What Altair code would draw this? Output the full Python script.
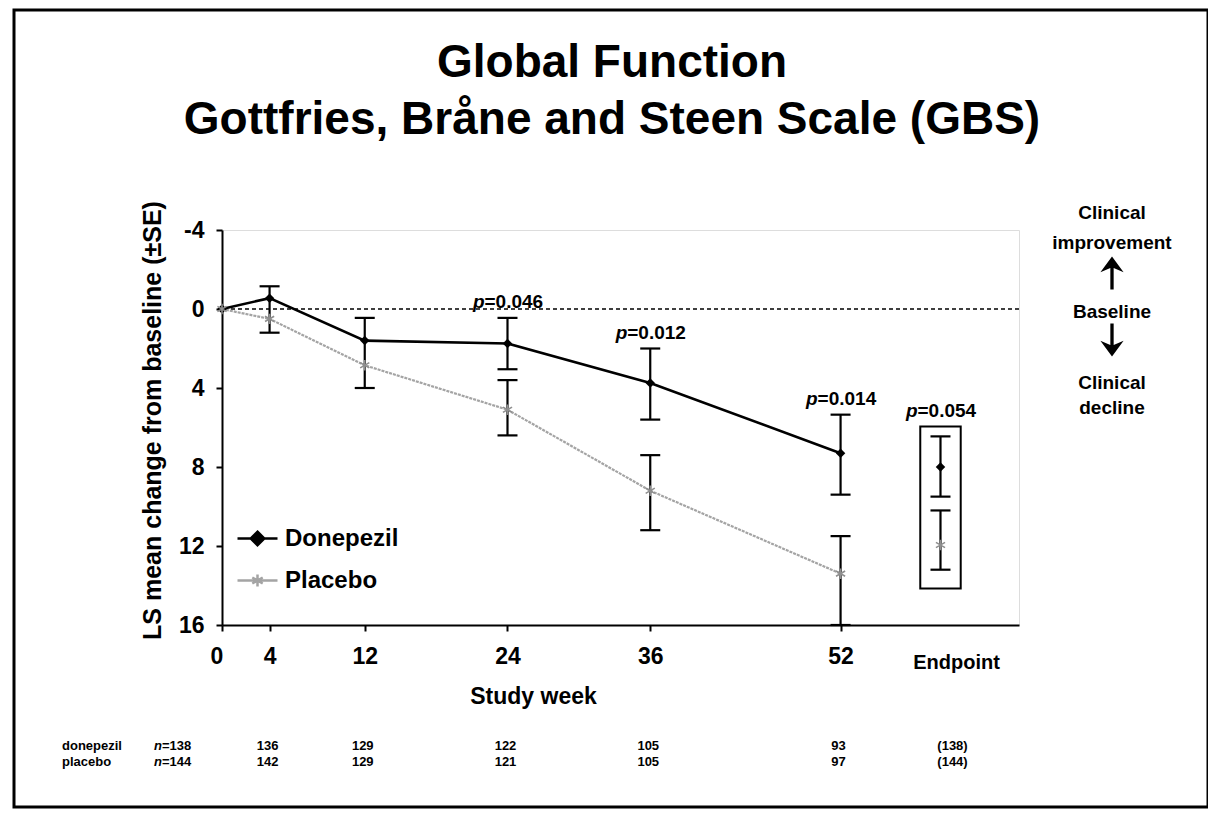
import altair as alt
import pandas as pd

# ---------------- data ----------------
series = ["Donepezil", "Placebo"]
weeks = [0, 4, 12, 24, 36, 52]
endpoint_x = 60.4
don_mean = [0, -0.55, 1.6, 1.75, 3.75, 7.3]
plc_mean = [0, 0.5, 2.85, 5.1, 9.2, 13.4]
don_end = 8.0
plc_end = 11.95

# error bars (weeks 4..52, then endpoint); None = one-sided bar joining the other series
bar_x = [4, 12, 24, 36, 52, endpoint_x]
don_lo = [-1.15, 0.45, 0.45, 2.0, 5.35, 6.45]
don_hi = [None, None, 3.05, 5.6, 9.4, 9.5]
plc_lo = [None, None, 3.6, 7.4, 11.5, 10.2]
plc_hi = [1.2, 4.0, 6.4, 11.2, 16.0, 13.2]

p_labels = ["0.046", "0.012", "0.014", "0.054"]
p_x = [24, 36, 52, endpoint_x]

n_don = ["138", "136", "129", "122", "105", "93", "138"]
n_plc = ["144", "142", "129", "121", "105", "97", "144"]
row_names = ["donepezil", "placebo"]

title_lines = ["Global Function", "Gottfries, Bråne and Steen Scale (GBS)"]
y_title = "LS mean change from baseline (±SE)"
x_title = "Study week"
endpoint_label = "Endpoint"
right_notes = ["Clinical", "improvement", "Baseline", "Clinical", "decline"]

FONT = "Liberation Sans"
GRAY = "#a4a4a4"

# ---------------- tables ----------------
lines_df = pd.DataFrame({
    "week": weeks * 2,
    "value": don_mean + plc_mean,
    "series": ["Donepezil"] * len(weeks) + ["Placebo"] * len(weeks),
})
all_x = weeks + [endpoint_x]
don_pts = pd.DataFrame({"week": all_x, "value": don_mean + [don_end]})
plc_pts = pd.DataFrame({"week": all_x, "value": plc_mean + [plc_end]})

plc_means_bar = plc_mean[1:] + [plc_end]
rule_rows, cap_rows = [], []
for i, x in enumerate(bar_x):
    d_hi = don_hi[i] if don_hi[i] is not None else plc_means_bar[i]
    rule_rows.append({"x": x, "lo": don_lo[i], "hi": d_hi})
    cap_rows.append({"x": x, "y": don_lo[i]})
    if don_hi[i] is not None:
        cap_rows.append({"x": x, "y": don_hi[i]})
    p_lo = plc_lo[i] if plc_lo[i] is not None else plc_means_bar[i]
    rule_rows.append({"x": x, "lo": p_lo, "hi": plc_hi[i]})
    cap_rows.append({"x": x, "y": plc_hi[i]})
    if plc_lo[i] is not None:
        cap_rows.append({"x": x, "y": plc_lo[i]})
rules_df = pd.DataFrame(rule_rows)
caps_df = pd.DataFrame(cap_rows)

box_df = pd.DataFrame({
    "x": [endpoint_x - 1.7], "x2": [endpoint_x + 1.7],
    "y": [don_lo[-1] - 0.5], "y2": [plc_hi[-1] + 0.95],
})
p_top = don_lo[2:5] + [box_df["y"][0]]
p_df = pd.DataFrame({"x": p_x, "y": [v - 0.8 for v in p_top],
                     "t": ["=" + s for s in p_labels], "p": ["p"] * 4})

# ---------------- scales / axes ----------------
xscale = alt.Scale(domain=[0, 67], nice=False, zero=False)
yscale = alt.Scale(domain=[-4, 16], nice=False, zero=False, reverse=True)
xaxis = alt.Axis(
    title=x_title, values=weeks, grid=False, domainColor="black", domainWidth=2,
    tickColor="black", tickWidth=2, tickSize=6, labelFont=FONT, labelFontSize=23,
    labelFontWeight="bold", labelColor="black", labelPadding=14,
    labelOffset={"condition": {"test": "datum.value == 0", "value": -12}, "value": 0},
    titleFont=FONT, titleFontSize=23, titleFontWeight="bold", titleColor="black",
    titleX=311, titleY=60, titleAnchor="middle",
)
yaxis = alt.Axis(
    title=y_title, values=[-4, 0, 4, 8, 12, 16], grid=False, domainColor="black",
    domainWidth=2, tickColor="black", tickWidth=2, tickSize=6, labelFont=FONT,
    labelFontSize=23, labelFontWeight="bold", labelColor="black", labelPadding=12,
    labelExpr="'' + datum.value",
    titleFont=FONT, titleFontSize=25, titleFontWeight="bold", titleColor="black",
    titleAngle=-90, titleX=-70, titleY=190, titleAnchor="middle", titleBaseline="middle",
)


def X(f):
    return alt.X(f, type="quantitative", scale=xscale, axis=xaxis)


def Y(f):
    return alt.Y(f, type="quantitative", scale=yscale, axis=yaxis)


base_rule = alt.Chart(pd.DataFrame({"y": [0]})).mark_rule(
    color="black", strokeWidth=1.5, strokeDash=[4, 3]
).encode(y=Y("y"))

plc_line = alt.Chart(lines_df).transform_filter("datum.series == 'Placebo'").mark_line(
    color=GRAY, strokeWidth=2.2, strokeDash=[3, 1]
).encode(x=X("week"), y=Y("value"))
don_line = alt.Chart(lines_df).transform_filter("datum.series == 'Donepezil'").mark_line(
    color="black", strokeWidth=2.6
).encode(x=X("week"), y=Y("value"))

err_rules = alt.Chart(rules_df).mark_rule(color="black", strokeWidth=2.2).encode(
    x=X("x"), y=Y("lo"), y2="hi"
)
err_caps = alt.Chart(caps_df).mark_tick(
    orient="horizontal", size=20, thickness=2.2, color="black", opacity=1
).encode(x=X("x"), y=Y("y"))

don_points = alt.Chart(don_pts).mark_point(
    shape="diamond", filled=True, size=90, color="black", opacity=1
).encode(x=X("week"), y=Y("value"))

ASTER = "M0,-1L0,1M-0.87,-0.5L0.87,0.5M-0.87,0.5L0.87,-0.5"
plc_points = alt.Chart(plc_pts).mark_point(
    shape=ASTER, filled=False, size=110, stroke="#8f8f8f", strokeWidth=1.6, opacity=1
).encode(x=X("week"), y=Y("value"))

box = alt.Chart(box_df).mark_rect(
    fillOpacity=0, stroke="black", strokeWidth=2
).encode(x=X("x"), x2="x2", y=Y("y"), y2="y2")

p_rest = alt.Chart(p_df).mark_text(
    font=FONT, fontSize=19, fontWeight="bold", align="left", baseline="middle",
    dx=-23, color="black"
).encode(x=X("x"), y=Y("y"), text="t:N")
p_p = alt.Chart(p_df).mark_text(
    font=FONT, fontSize=19, fontWeight="bold", fontStyle="italic", align="right",
    baseline="middle", dx=-23, color="black"
).encode(x=X("x"), y=Y("y"), text="p:N")

end_lab = alt.Chart(pd.DataFrame({"x": [endpoint_x], "t": [endpoint_label]})).mark_text(
    font=FONT, fontSize=20, fontWeight="bold", align="center", baseline="middle",
    dx=16, color="black"
).encode(x=X("x"), y=alt.value(433), text="t:N")

# title (two centred lines)
title_layers = []
for txt, yy in zip(title_lines, [-167, -110]):
    title_layers.append(
        alt.Chart(pd.DataFrame({"t": [txt]})).mark_text(
            font=FONT, fontSize=46, fontWeight="bold", color="black", align="center",
            baseline="middle"
        ).encode(x=alt.value(390), y=alt.value(yy), text="t:N")
    )

# n table
table_layers = []
for r, (name, nvals) in enumerate(zip(row_names, [n_don, n_plc])):
    ypix = 516 + 16 * r
    cols = pd.DataFrame({"x": all_x, "t": nvals})
    first = cols.iloc[[0]].assign(t=lambda d: "=" + d["t"])
    mid = cols.iloc[1:-1]
    last = cols.iloc[[-1]].assign(t=lambda d: "(" + d["t"] + ")")
    common = dict(font=FONT, fontSize=13, fontWeight="bold", color="black", baseline="middle")
    table_layers += [
        alt.Chart(pd.DataFrame({"x": [0], "t": [name]})).mark_text(align="left", dx=-160, **common)
        .encode(x=X("x"), y=alt.value(ypix), text="t:N"),
        alt.Chart(first.assign(n="n")).mark_text(align="right", dx=-60, fontStyle="italic", **common)
        .encode(x=X("x"), y=alt.value(ypix), text="n:N"),
        alt.Chart(first).mark_text(align="left", dx=-60, **common)
        .encode(x=X("x"), y=alt.value(ypix), text="t:N"),
        alt.Chart(mid).mark_text(align="center", dx=-2, **common)
        .encode(x=X("x"), y=alt.value(ypix), text="t:N"),
        alt.Chart(last).mark_text(align="center", dx=12, **common)
        .encode(x=X("x"), y=alt.value(ypix), text="t:N"),
    ]

# right-hand notes
note_y = [-17, 13, 82, 153, 178]
note_layers = []
for txt, yy in zip(right_notes, note_y):
    note_layers.append(
        alt.Chart(pd.DataFrame({"t": [txt]})).mark_text(
            font=FONT, fontSize=19, fontWeight="bold", color="black", align="center",
            baseline="middle"
        ).encode(x=alt.value(890), y=alt.value(yy), text="t:N")
    )
UP = "M0,-1L0.7,-0.05L0.1,-0.3L0.1,1L-0.1,1L-0.1,-0.3L-0.7,-0.05Z"
DOWN = "M0,1L0.7,0.05L0.1,0.3L0.1,-1L-0.1,-1L-0.1,0.3L-0.7,0.05Z"
arrows = [
    alt.Chart(pd.DataFrame({"a": [1]})).mark_point(
        shape=UP, filled=True, color="black", size=1100, opacity=1
    ).encode(x=alt.value(890), y=alt.value(43)),
    alt.Chart(pd.DataFrame({"a": [1]})).mark_point(
        shape=DOWN, filled=True, color="black", size=1100, opacity=1
    ).encode(x=alt.value(890), y=alt.value(110)),
]

frame = alt.Chart(pd.DataFrame({"a": [1]})).mark_rect(
    fillOpacity=0, stroke="black", strokeWidth=3
).encode(x=alt.value(-208), x2=alt.value(986), y=alt.value(-220), y2=alt.value(577))

# legend
LEG_D = "M-1,0L1,0M0,-0.34L0.34,0L0,0.34L-0.34,0Z"
LEG_P = "M-1,0L1,0M0,-0.3L0,0.3M-0.26,-0.15L0.26,0.15M-0.26,0.15L0.26,-0.15"
leg = alt.Legend(
    title=None, orient="none", legendX=14, legendY=287, symbolSize=1600,
    symbolStrokeWidth=2.5, labelFont=FONT, labelFontSize=24, labelFontWeight="bold",
    labelColor="black", labelOffset=6, rowPadding=8,
)
legend_layer = alt.Chart(pd.DataFrame({"series": series})).transform_filter("false").mark_point(
    opacity=1
).encode(
    shape=alt.Shape("series:N", scale=alt.Scale(domain=series, range=[LEG_D, LEG_P]), legend=leg),
    stroke=alt.Stroke("series:N", scale=alt.Scale(domain=series, range=["black", GRAY]), legend=leg),
    fill=alt.Fill("series:N", scale=alt.Scale(domain=series, range=["black", "transparent"]), legend=leg),
)

chart = alt.layer(
    frame, base_rule, plc_line, don_line, err_rules, err_caps, box, don_points, plc_points,
    p_rest, p_p, end_lab, *title_layers, *table_layers, *note_layers, *arrows, legend_layer,
).properties(
    width=797, height=395,
    autosize=alt.AutoSizeParams(type="none"),
    padding={"left": 214, "top": 222, "right": 189, "bottom": 184},
).configure_view(stroke=None).configure(font=FONT, background="white")

chart.save("out.html", embed_options={"renderer": "svg", "actions": False})
